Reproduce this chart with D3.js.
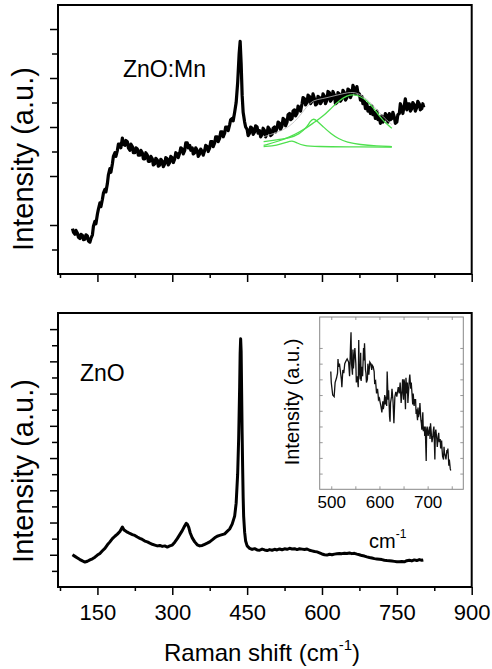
<!DOCTYPE html>
<html lang="en">
<head>
<meta charset="utf-8">
<title>Raman spectra: ZnO and ZnO:Mn</title>
<script src="https://cdn.jsdelivr.net/npm/d3@7"></script>
<style>
body { margin: 0; background: #fff; }
text { font-family: "Liberation Sans", Arial, sans-serif; fill: #000; }
</style>
</head>
<body>
<script>
// ---- data ----
// tick values
var xMajor = [150, 300, 450, 600, 750, 900];
var xMinor = [75, 225, 375, 525, 675, 825];
var topLong = [2, 4, 6, 8, 10];
var topShort = [1, 5, 7, 9];
var botLong = [2, 4, 6, 8, 10, 12, 14, 16];
var botShort = [1, 3, 5, 7, 9, 11, 13, 15];
var insetXLabels = [500, 600, 700];
var insetXTicks = [500, 550, 600, 650, 700, 750];
var insetYTicks = [1, 2, 3, 4, 5, 6, 7, 8, 9];

// ZnO:Mn spectrum [Raman shift, intensity] (noisy trace)
var znoMn = [[100,1.85],[102,1.70],[105,1.62],[107,1.78],[110,1.66],[112,1.50],[115,1.45],[117,1.62],[120,1.58],
  [122,1.40],[125,1.42],[127,1.60],[130,1.55],[132,1.35],[135,1.30],[137,1.45],[140,1.60],[142,1.95],[145,2.15],
  [147,2.05],[150,2.45],[152,2.65],[155,2.90],[157,2.75],[160,3.05],[162,3.30],[165,3.45],[167,3.35],[170,3.70],
  [172,4.05],[175,4.30],[177,4.15],[180,4.50],[182,4.80],[185,4.95],[187,4.80],[190,5.05],[192,5.30],[195,5.30],
  [197,5.15],[200,5.55],[202,5.30],[205,5.25],[207,5.45],[210,5.40],[212,5.15],[215,5.05],[217,5.30],[220,5.20],
  [222,4.95],[225,4.95],[227,5.15],[230,5.10],[232,4.85],[235,4.85],[237,5.05],[240,4.95],[242,4.70],[245,4.70],
  [247,4.95],[250,4.85],[252,4.60],[255,4.60],[257,4.80],[260,4.70],[262,4.45],[265,4.50],[267,4.72],[270,4.65],
  [272,4.40],[275,4.45],[277,4.68],[280,4.60],[282,4.38],[285,4.50],[287,4.75],[290,4.70],[292,4.45],[295,4.55],
  [297,4.80],[300,4.75],[302,4.55],[305,4.70],[307,4.95],[310,4.90],[312,4.75],[315,4.95],[317,5.15],[320,5.10],
  [322,4.90],[325,5.05],[327,5.35],[330,5.35],[332,5.15],[335,5.25],[337,5.05],[340,5.15],[342,4.90],[345,4.95],
  [347,5.15],[350,5.05],[352,4.80],[355,4.90],[357,5.10],[360,5.00],[362,4.85],[365,5.05],[367,5.25],[370,5.20],
  [372,5.00],[375,5.15],[377,5.40],[380,5.40],[382,5.20],[385,5.35],[387,5.60],[390,5.60],[392,5.40],[395,5.55],
  [397,5.80],[400,5.80],[402,5.60],[405,5.75],[407,6.00],[410,6.00],[412,5.85],[415,6.10],[417,6.30],[420,6.35],
  [422,6.25],[425,6.60],[428,7.00],[431,7.80],[434,9.00],[436,9.50],[438,8.60],[440,7.30],[442,6.60],[445,6.20],
  [447,6.00],[450,5.90],[452,5.65],[455,5.75],[457,6.00],[460,5.95],[462,5.70],[465,5.80],[467,6.05],[470,6.00],
  [472,5.75],[475,5.85],[477,5.60],[480,5.70],[482,5.95],[485,5.85],[487,5.60],[490,5.75],[492,6.00],[495,5.90],
  [497,5.65],[500,5.70],[502,5.95],[505,6.00],[507,5.80],[510,5.95],[512,6.20],[515,6.15],[517,5.90],[520,6.05],
  [522,6.35],[525,6.30],[527,6.05],[530,6.20],[532,6.50],[535,6.55],[537,6.30],[540,6.35],[542,6.65],[545,6.70],
  [547,6.45],[550,6.55],[552,6.85],[555,6.80],[557,6.65],[560,6.95],[562,7.20],[565,7.15],[567,6.90],[570,7.00],
  [572,7.30],[575,7.25],[577,6.95],[580,7.05],[582,7.35],[585,7.15],[587,6.90],[590,6.95],[592,7.25],[595,7.20],
  [597,6.95],[600,7.05],[602,7.35],[605,7.25],[607,6.95],[610,7.10],[612,7.45],[615,7.40],[617,7.05],[620,7.15],
  [622,7.45],[625,7.30],[627,6.95],[630,7.00],[632,7.40],[635,7.35],[637,7.05],[640,7.15],[642,7.50],[645,7.40],
  [647,7.10],[650,7.20],[652,7.55],[655,7.50],[657,7.20],[660,7.35],[662,7.70],[665,7.55],[667,7.35],[670,7.65],
  [672,7.40],[675,7.35],[677,7.10],[680,7.25],[682,6.95],[685,7.05],[687,6.75],[690,6.95],[692,6.65],[695,6.80],
  [697,6.55],[700,6.85],[702,6.50],[705,6.60],[707,6.35],[710,6.65],[712,6.30],[715,6.40],[717,6.15],[720,6.45],
  [722,6.20],[725,6.30],[727,6.55],[730,6.45],[732,6.20],[735,6.55],[737,6.30],[740,6.35],[742,6.60],[745,6.40],
  [747,6.15],[750,6.20],[752,6.50],[755,6.55],[757,6.95],[760,6.75],[762,6.55],[765,6.90],[767,7.15],[770,6.70],
  [772,6.95],[775,6.95],[777,6.65],[780,6.75],[782,7.00],[785,6.90],[787,6.65],[790,6.80],[792,7.05],[795,6.95],
  [797,6.70],[800,6.75],[802,6.95],[804,6.80]];

// peak fit curves for ZnO:Mn
var fitBroad = [[483,5.25],[510,5.40],[536,5.60],[555,5.80],[570,5.98],[585,6.20],[603,6.45],[620,6.80],[636,7.10],
  [650,7.28],[663,7.33],[677,7.25],[690,7.08],[703,6.78],[716,6.42],[728,6.15],[740,5.95]];
var fitMid = [[483,5.40],[510,5.48],[536,5.55],[555,5.72],[568,5.95],[577,6.25],[583,6.35],[590,6.25],[603,6.00],
  [618,5.72],[633,5.52],[650,5.38],[676,5.28],[710,5.22],[740,5.20]];
var fitSmall = [[483,5.20],[510,5.25],[530,5.38],[540,5.45],[550,5.35],[562,5.24],[590,5.20],[650,5.19],[740,5.18]];
var fitSum = [[483,5.60],[510,5.78],[530,5.95],[550,6.30],[570,6.85],[583,7.10],[600,7.15],[620,7.25],[640,7.35],
  [663,7.45],[680,7.30],[700,6.95],[720,6.45],[740,6.10]];

// ZnO spectrum [Raman shift, intensity]
var zno = [[100,2.00],[105,1.90],[110,1.80],[115,1.70],[120,1.62],[125,1.55],[130,1.60],[135,1.68],[140,1.75],
  [145,1.85],[150,1.98],[155,2.08],[160,2.25],[165,2.40],[170,2.62],[175,2.80],[180,3.00],[185,3.15],[190,3.28],
  [195,3.45],[200,3.72],[203,3.55],[205,3.50],[210,3.40],[215,3.32],[220,3.25],[225,3.20],[230,3.10],[235,3.02],
  [240,2.95],[245,2.85],[250,2.80],[255,2.72],[260,2.65],[265,2.60],[270,2.55],[275,2.58],[280,2.52],[285,2.55],
  [290,2.48],[295,2.55],[300,2.60],[305,2.78],[310,3.00],[315,3.25],[320,3.50],[325,3.80],[328,3.95],[330,3.90],
  [333,3.70],[336,3.35],[340,3.05],[345,2.80],[350,2.62],[355,2.55],[360,2.58],[365,2.65],[370,2.72],[375,2.80],
  [380,2.92],[385,3.05],[390,3.15],[395,3.20],[400,3.25],[405,3.30],[410,3.45],[415,3.60],[420,3.90],[425,4.40],
  [428,5.20],[431,7.00],[433,9.20],[435,12.40],[436,14.50],[437,15.40],[438,14.60],[439,12.00],[440,9.50],
  [441,7.40],[442,5.60],[443,4.40],[445,3.40],[447,2.85],[450,2.55],[455,2.40],[460,2.33],[465,2.38],[470,2.30],
  [475,2.28],[480,2.35],[485,2.30],[490,2.26],[495,2.32],[500,2.28],[505,2.34],[510,2.30],[515,2.36],[520,2.31],
  [525,2.37],[530,2.34],[535,2.40],[540,2.36],[545,2.38],[550,2.32],[555,2.37],[560,2.35],[565,2.33],[570,2.36],
  [575,2.28],[580,2.24],[585,2.20],[590,2.18],[595,2.12],[600,2.05],[605,2.00],[610,1.98],[615,2.03],[620,2.00],
  [625,2.04],[630,2.06],[635,2.08],[640,2.07],[645,2.10],[650,2.08],[655,2.11],[660,2.07],[665,2.09],[670,2.04],
  [675,2.00],[680,1.95],[685,1.92],[690,1.87],[695,1.83],[700,1.80],[705,1.76],[710,1.74],[715,1.72],[720,1.70],
  [725,1.66],[730,1.64],[735,1.63],[740,1.61],[745,1.59],[750,1.57],[755,1.56],[760,1.58],[765,1.56],[770,1.63],
  [775,1.66],[780,1.62],[785,1.68],[790,1.64],[795,1.70],[800,1.66],[803,1.68]];

// inset: ZnO 500-750 cm-1 zoom
var insetData = [[499,7.5],[500,6.8],[503,6.0],[506,5.9],[508,6.8],[511,7.1],[513,7.4],[514,8.3],[515,7.8],[517,8.0],
  [519,7.5],[521,7.0],[522,6.5],[524,7.6],[526,7.4],[528,8.0],[531,8.2],[533,8.3],[536,8.1],[538,7.2],[540,9.2],
  [541,10.0],[542,8.0],[544,7.3],[545,8.9],[546,7.7],[549,9.0],[551,8.0],[552,6.8],[554,7.2],[556,6.5],[557,9.5],
  [558,7.6],[560,7.0],[561,8.7],[562,6.9],[564,7.8],[565,7.2],[567,9.0],[568,8.2],[569,9.3],[571,7.6],[572,7.4],
  [573,6.8],[575,7.0],[576,8.0],[578,7.3],[580,8.1],[582,8.0],[584,7.6],[585,7.9],[587,7.8],[589,7.5],[590,6.8],
  [592,6.9],[594,6.1],[596,6.4],[597,6.1],[598,5.7],[600,5.8],[601,5.6],[603,5.3],[604,5.1],[605,4.9],[607,5.6],
  [608,5.1],[609,5.3],[611,6.0],[612,5.4],[614,5.9],[615,5.3],[616,7.5],[618,5.7],[619,6.3],[621,4.6],[622,4.3],
  [623,5.5],[625,5.9],[626,6.4],[628,5.7],[630,4.2],[632,5.9],[634,6.2],[636,5.9],[639,6.5],[641,6.1],[643,6.8],
  [645,5.5],[647,6.3],[648,7.0],[650,5.7],[651,7.0],[652,6.8],[654,5.1],[655,7.1],[657,6.1],[658,6.8],[659,5.5],
  [661,6.5],[662,7.0],[663,7.3],[665,6.4],[666,6.8],[668,5.9],[669,5.4],[670,6.1],[672,5.3],[673,5.7],[675,5.7],
  [676,4.8],[677,5.1],[679,4.4],[680,5.2],[681,4.6],[683,4.9],[684,5.5],[686,4.4],[687,4.2],[688,3.8],[690,4.9],
  [691,3.7],[693,4.0],[694,3.4],[695,4.0],[697,1.8],[698,3.8],[699,4.0],[701,3.4],[702,3.6],[704,4.0],[705,3.2],
  [706,4.2],[708,3.4],[709,3.0],[711,3.4],[712,3.8],[713,4.0],[715,1.9],[716,3.6],[717,3.8],[719,3.2],[720,2.7],
  [722,3.4],[723,3.6],[724,3.0],[726,3.2],[727,2.6],[729,3.1],[730,2.5],[731,2.1],[733,1.9],[734,2.7],[735,2.3],
  [737,2.1],[738,1.9],[740,2.5],[741,2.3],[742,2.6],[744,1.5],[745,1.9],[747,1.3],[748,1.2]];

// ---- layout ----
var w = 492, h = 669;
var left = 58, right = 471.7;
var topBox = {t: 5, b: 274};
var botBox = {t: 313, b: 587};
var inBox = {l: 319.7, r: 463.3, t: 317, b: 489.3};

var svg = d3.select('body').append('svg')
  .attr('width', w).attr('height', h);

svg.append('rect').attr('width', w).attr('height', h).attr('fill', '#fff');

var x = d3.scaleLinear().domain([71, 900]).range([left, right]);
var yTop = d3.scaleLinear().domain([0, 10.98]).range([topBox.b, topBox.t]);
var yBot = d3.scaleLinear().domain([0, 17]).range([botBox.b, botBox.t]);
var xIn = d3.scaleLinear().domain([476, 774]).range([inBox.l, inBox.r]);
var yIn = d3.scaleLinear().domain([0, 10.97]).range([inBox.b, inBox.t]);

function styleAxis(g, width, color) {
  g.select('.domain').remove();
  g.selectAll('.tick line').attr('stroke', color || '#000').attr('stroke-width', width);
}

// axes for both main panels
function drawAxes(box, y, longT, shortT, withLabels) {
  var gx = svg.append('g').attr('transform', 'translate(0,' + box.b + ')');
  gx.call(d3.axisBottom(x).tickValues(xMajor).tickSize(8).tickPadding(9)
    .tickFormat(withLabels ? d3.format('d') : ''));
  styleAxis(gx, 1.5);
  gx.selectAll('text').attr('font-size', 22).attr('fill', '#000')
    .style('font-family', '"Liberation Sans", Arial, sans-serif');

  var gxm = svg.append('g').attr('transform', 'translate(0,' + box.b + ')');
  gxm.call(d3.axisBottom(x).tickValues(xMinor).tickSize(4).tickFormat(''));
  styleAxis(gxm, 1.5);

  var gy = svg.append('g').attr('transform', 'translate(' + left + ',0)');
  gy.call(d3.axisLeft(y).tickValues(longT).tickSize(8).tickFormat(''));
  styleAxis(gy, 1.5);
  var gys = svg.append('g').attr('transform', 'translate(' + left + ',0)');
  gys.call(d3.axisLeft(y).tickValues(shortT).tickSize(6).tickFormat(''));
  styleAxis(gys, 1.5);

  svg.append('rect')
    .attr('x', left).attr('y', box.t)
    .attr('width', right - left).attr('height', box.b - box.t)
    .attr('fill', 'none').attr('stroke', '#000').attr('stroke-width', 2);
}

drawAxes(topBox, yTop, topLong, topShort, false);
drawAxes(botBox, yBot, botLong, botShort, true);

// ---- top panel: ZnO:Mn ----
var lineTop = d3.line().x(function(d) { return x(d[0]); }).y(function(d) { return yTop(d[1]); });
var smoothTop = d3.line().curve(d3.curveBasis)
  .x(function(d) { return x(d[0]); }).y(function(d) { return yTop(d[1]); });

svg.append('path').datum(znoMn)
  .attr('d', lineTop).attr('fill', 'none')
  .attr('stroke', '#000').attr('stroke-width', 3.2).attr('stroke-linejoin', 'round');

[fitBroad, fitMid, fitSmall].forEach(function(c) {
  svg.append('path').datum(c)
    .attr('d', smoothTop).attr('fill', 'none')
    .attr('stroke', '#4fe04f').attr('stroke-width', 1.3);
});
svg.append('path').datum(fitSum)
  .attr('d', smoothTop).attr('fill', 'none')
  .attr('stroke', '#bbb').attr('stroke-width', 0.8);

svg.append('text').attr('x', 123).attr('y', 77)
  .attr('font-size', 23).text('ZnO:Mn');

// ---- bottom panel: ZnO ----
var lineBot = d3.line().x(function(d) { return x(d[0]); }).y(function(d) { return yBot(d[1]); });
svg.append('path').datum(zno)
  .attr('d', lineBot).attr('fill', 'none')
  .attr('stroke', '#000').attr('stroke-width', 3).attr('stroke-linejoin', 'round');

svg.append('text').attr('x', 80).attr('y', 381)
  .attr('font-size', 23).text('ZnO');

// ---- inset ----
svg.append('rect')
  .attr('x', inBox.l).attr('y', inBox.t)
  .attr('width', inBox.r - inBox.l).attr('height', inBox.b - inBox.t)
  .attr('fill', '#fff');

var gib = svg.append('g').attr('transform', 'translate(0,' + inBox.b + ')');
gib.call(d3.axisBottom(xIn).tickValues(insetXTicks).tickSize(-3).tickPadding(7)
  .tickFormat(function(d) { return insetXLabels.indexOf(d) >= 0 ? d : ''; }));
styleAxis(gib, 1, '#999');
gib.selectAll('text').attr('font-size', 17).attr('fill', '#000')
  .style('font-family', '"Liberation Sans", Arial, sans-serif');

var git = svg.append('g').attr('transform', 'translate(0,' + inBox.t + ')');
git.call(d3.axisTop(xIn).tickValues(insetXTicks).tickSize(-3).tickFormat(''));
styleAxis(git, 1, '#999');

var gil = svg.append('g').attr('transform', 'translate(' + inBox.l + ',0)');
gil.call(d3.axisLeft(yIn).tickValues(insetYTicks).tickSize(-3).tickFormat(''));
styleAxis(gil, 1, '#999');

var gir = svg.append('g').attr('transform', 'translate(' + inBox.r + ',0)');
gir.call(d3.axisRight(yIn).tickValues(insetYTicks).tickSize(-3).tickFormat(''));
styleAxis(gir, 1, '#999');

svg.append('rect')
  .attr('x', inBox.l).attr('y', inBox.t)
  .attr('width', inBox.r - inBox.l).attr('height', inBox.b - inBox.t)
  .attr('fill', 'none').attr('stroke', '#888').attr('stroke-width', 1);

svg.append('path').datum(insetData)
  .attr('d', d3.line().x(function(d) { return xIn(d[0]); }).y(function(d) { return yIn(d[1]); }))
  .attr('fill', 'none').attr('stroke', '#111').attr('stroke-width', 1.3);

svg.append('text')
  .attr('transform', 'translate(299,402) rotate(-90)')
  .attr('text-anchor', 'middle').attr('font-size', 20)
  .text('Intensity (a.u.)');

var cm = svg.append('text').attr('x', 369).attr('y', 548).attr('font-size', 20);
cm.append('tspan').text('cm');
cm.append('tspan').attr('font-size', 12).attr('dy', -10).text('-1');

// ---- axis titles ----
svg.append('text')
  .attr('transform', 'translate(33,159) rotate(-90)')
  .attr('text-anchor', 'middle').attr('font-size', 29)
  .text('Intensity (a.u.)');
svg.append('text')
  .attr('transform', 'translate(33,471) rotate(-90)')
  .attr('text-anchor', 'middle').attr('font-size', 29)
  .text('Intensity (a.u.)');

var xt = svg.append('text').attr('x', 262).attr('y', 661)
  .attr('text-anchor', 'middle').attr('font-size', 24);
xt.append('tspan').text('Raman shift (cm');
xt.append('tspan').attr('font-size', 15).attr('dy', -11).text('-1');
xt.append('tspan').attr('dy', 11).text(')');
</script>
</body>
</html>
